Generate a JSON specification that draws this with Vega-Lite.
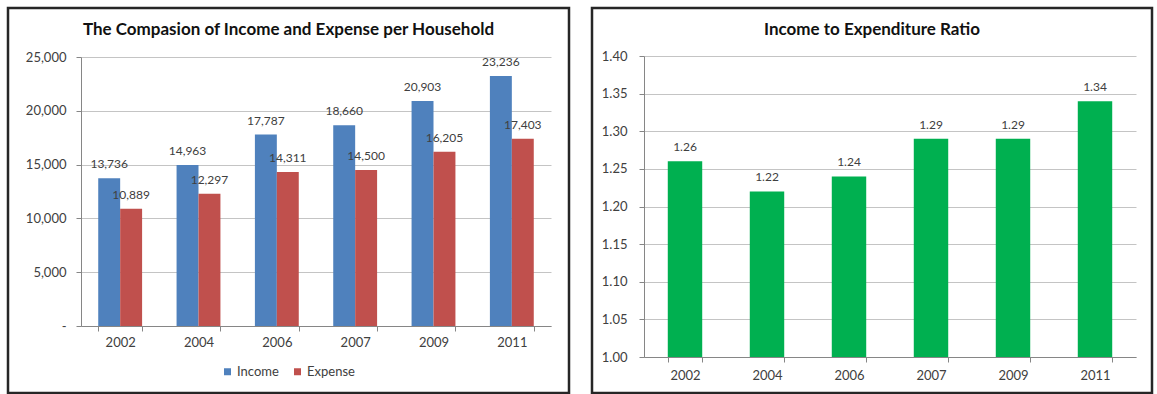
{
  "$schema": "https://vega.github.io/schema/vega-lite/v6.json",
  "background": "white",
  "padding": {"left": 6, "top": 6, "right": 0, "bottom": 0},
  "spacing": 19,
  "config": {
    "font": "Lato",
    "view": {"stroke": "#262626", "strokeWidth": 2.5},
    "axis": {
      "labelFont": "Lato",
      "labelFontSize": 13,
      "labelColor": "#404040",
      "domainColor": "#868686",
      "tickColor": "#868686",
      "gridColor": "#C4C4C4",
      "tickSize": 5
    },
    "title": {"font": "Lato", "fontWeight": "bold", "color": "#111111", "anchor": "middle"}
  },
  "datasets": {
    "money": [
      {"year": "2002", "series": "Income", "value": 13736},
      {"year": "2002", "series": "Expense", "value": 10889},
      {"year": "2004", "series": "Income", "value": 14963},
      {"year": "2004", "series": "Expense", "value": 12297},
      {"year": "2006", "series": "Income", "value": 17787},
      {"year": "2006", "series": "Expense", "value": 14311},
      {"year": "2007", "series": "Income", "value": 18660},
      {"year": "2007", "series": "Expense", "value": 14500},
      {"year": "2009", "series": "Income", "value": 20903},
      {"year": "2009", "series": "Expense", "value": 16205},
      {"year": "2011", "series": "Income", "value": 23236},
      {"year": "2011", "series": "Expense", "value": 17403}
    ],
    "ratio": [
      {"year": "2002", "ratio": 1.26},
      {"year": "2004", "ratio": 1.22},
      {"year": "2006", "ratio": 1.24},
      {"year": "2007", "ratio": 1.29},
      {"year": "2009", "ratio": 1.29},
      {"year": "2011", "ratio": 1.34}
    ]
  },
  "hconcat": [
    {
      "width": 561,
      "height": 385,
      "data": {"name": "money"},
      "title": {"text": "The Compasion of Income and Expense per Household", "fontSize": 17, "offset": -31},
      "encoding": {
        "x": {
          "field": "year", "type": "nominal",
          "scale": {"paddingInner": 0.44, "paddingOuter": 0.22, "range": [73, 543]},
          "axis": {"title": null, "labelAngle": 0, "tickBand": "extent", "labelPadding": 5, "offset": -67}
        },
        "xOffset": {"field": "series", "type": "nominal", "sort": ["Income", "Expense"]},
        "y": {
          "field": "value", "type": "quantitative",
          "scale": {"domain": [0, 25000], "range": [318, 49]},
          "axis": {
            "title": null,
            "values": [0, 5000, 10000, 15000, 20000, 25000],
            "labelExpr": "datum.value == 0 ? '-' : format(datum.value, ',')",
            "labelPadding": 10,
            "offset": -73
          }
        }
      },
      "layer": [
        {
          "mark": {"type": "bar"},
          "encoding": {
            "color": {
              "field": "series", "type": "nominal",
              "scale": {"domain": ["Income", "Expense"], "range": ["#4F81BD", "#C0504D"]},
              "legend": {
                "title": null, "orient": "none", "legendX": 213, "legendY": 357, "direction": "horizontal",
                "symbolType": "square", "symbolSize": 49, "labelFontSize": 13,
                "labelColor": "#404040", "columnPadding": 12, "symbolStrokeWidth": 0, "labelOffset": 3
              }
            }
          }
        },
        {
          "mark": {"type": "text", "dy": -14, "fontSize": 12, "color": "#404040"},
          "encoding": {"text": {"field": "value", "type": "quantitative", "format": ","}}
        }
      ]
    },
    {
      "width": 560,
      "height": 385,
      "data": {"name": "ratio"},
      "title": {"text": "Income to Expenditure Ratio", "fontSize": 17, "offset": -31},
      "encoding": {
        "x": {
          "field": "year", "type": "nominal",
          "scale": {"paddingInner": 0.58, "paddingOuter": 0.29, "range": [52, 544]},
          "axis": {"title": null, "labelAngle": 0, "tickBand": "extent", "labelPadding": 7, "offset": -36}
        },
        "y": {
          "field": "ratio", "type": "quantitative",
          "scale": {"domain": [1.0, 1.4], "zero": false, "range": [349, 48]},
          "axis": {
            "title": null,
            "values": [1.0, 1.05, 1.1, 1.15, 1.2, 1.25, 1.3, 1.35, 1.4],
            "format": ".2f",
            "labelPadding": 12,
            "offset": -52
          }
        }
      },
      "layer": [
        {
          "mark": {"type": "bar", "color": "#00B050"},
          "encoding": {"y2": {"datum": 1.0}}
        },
        {
          "mark": {"type": "text", "dy": -14, "fontSize": 12, "color": "#404040"},
          "encoding": {"text": {"field": "ratio", "type": "quantitative", "format": ".2f"}}
        }
      ]
    }
  ]
}
